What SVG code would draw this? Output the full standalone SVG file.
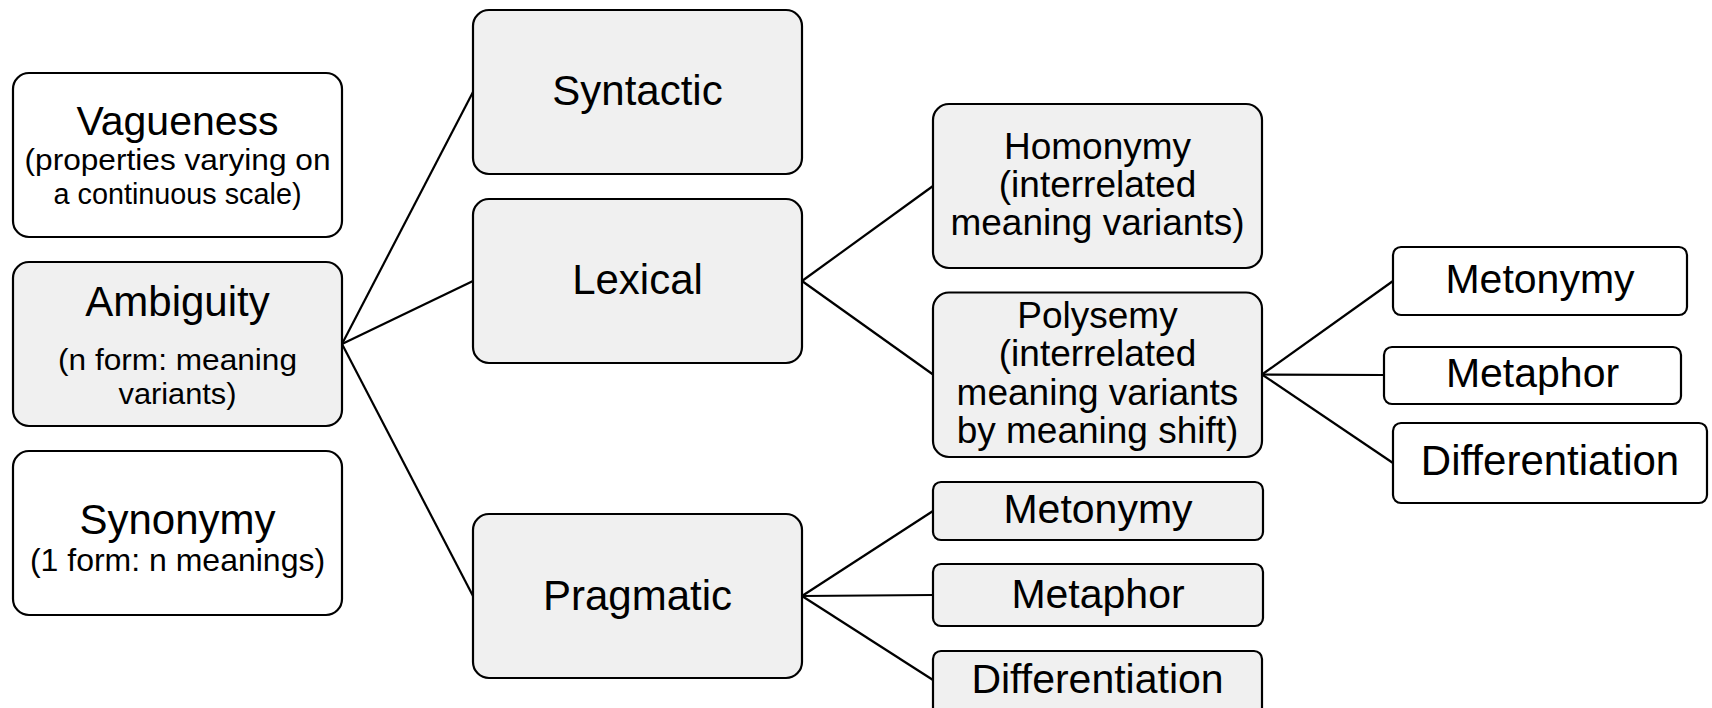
<svg xmlns="http://www.w3.org/2000/svg" width="1712" height="708" viewBox="0 0 1712 708">
<style>
.b{stroke:#000;stroke-width:2.2}
.g{fill:#f0f0f0}
.w{fill:#fff}
text{font-family:"Liberation Sans",Arial,sans-serif;fill:#000;text-anchor:middle}
.t42{font-size:42px}
.t41{font-size:41px}
.t37{font-size:37px}
.t32{font-size:32px}
.t30{font-size:29.5px}
.c line{stroke:#000;stroke-width:2.2}
</style>
<rect width="1712" height="708" fill="#fff"/>
<g class="c" id="connectors">
<line x1="342" y1="344" x2="473" y2="92"/>
<line x1="342" y1="344" x2="473" y2="281"/>
<line x1="342" y1="344" x2="473" y2="596"/>
<line x1="802" y1="281" x2="933" y2="186"/>
<line x1="802" y1="281" x2="933" y2="374.5"/>
<line x1="802" y1="596" x2="933" y2="511"/>
<line x1="802" y1="596" x2="933" y2="595"/>
<line x1="802" y1="596" x2="933" y2="680"/>
<line x1="1262" y1="374.5" x2="1393" y2="281"/>
<line x1="1262" y1="374.5" x2="1384" y2="375"/>
<line x1="1262" y1="374.5" x2="1393" y2="463"/>
</g>
<g id="vagueness">
<rect class="b w" x="13" y="73" width="329" height="164" rx="16"/>
<text class="t41" x="177.5" y="134.5">Vagueness</text>
<text class="t30" x="177.5" y="170" textLength="306" lengthAdjust="spacingAndGlyphs">(properties varying on</text>
<text class="t30" x="177.5" y="204" textLength="248" lengthAdjust="spacingAndGlyphs">a continuous scale)</text>
</g>
<g id="ambiguity">
<rect class="b g" x="13" y="262" width="329" height="164" rx="16"/>
<text class="t42" x="177.5" y="316">Ambiguity</text>
<text class="t30" x="177.5" y="370" textLength="239" lengthAdjust="spacingAndGlyphs">(n form: meaning</text>
<text class="t30" x="177.5" y="404" textLength="118" lengthAdjust="spacingAndGlyphs">variants)</text>
</g>
<g id="synonymy">
<rect class="b w" x="13" y="451" width="329" height="164" rx="16"/>
<text class="t42" x="177.5" y="534">Synonymy</text>
<text class="t32" x="177.5" y="571">(1 form: n meanings)</text>
</g>
<g id="syntactic">
<rect class="b g" x="473" y="10" width="329" height="164" rx="16"/>
<text class="t42" x="637.5" y="105">Syntactic</text>
</g>
<g id="lexical">
<rect class="b g" x="473" y="199" width="329" height="164" rx="16"/>
<text class="t42" x="637.5" y="294">Lexical</text>
</g>
<g id="pragmatic">
<rect class="b g" x="473" y="514" width="329" height="164" rx="16"/>
<text class="t42" x="637.5" y="610">Pragmatic</text>
</g>
<g id="homonymy">
<rect class="b g" x="933" y="104" width="329" height="164" rx="16"/>
<text class="t37" x="1097.5" y="159">Homonymy</text>
<text class="t37" x="1097.5" y="197">(interrelated</text>
<text class="t37" x="1097.5" y="235">meaning variants)</text>
</g>
<g id="polysemy">
<rect class="b g" x="933" y="292.5" width="329" height="164.5" rx="16"/>
<text class="t37" x="1097.5" y="328">Polysemy</text>
<text class="t37" x="1097.5" y="366">(interrelated</text>
<text class="t37" x="1097.5" y="405">meaning variants</text>
<text class="t37" x="1097.5" y="443">by meaning shift)</text>
</g>
<g id="prag-metonymy">
<rect class="b g" x="933" y="482" width="330" height="58" rx="8"/>
<text class="t41" x="1098" y="523">Metonymy</text>
</g>
<g id="prag-metaphor">
<rect class="b g" x="933" y="564" width="330" height="62" rx="8"/>
<text class="t41" x="1098" y="608">Metaphor</text>
</g>
<g id="prag-differentiation">
<rect class="b g" x="933" y="651" width="329" height="70" rx="8"/>
<text class="t41" x="1097.5" y="693">Differentiation</text>
</g>
<g id="poly-metonymy">
<rect class="b w" x="1393" y="247" width="294" height="68" rx="8"/>
<text class="t41" x="1540" y="293">Metonymy</text>
</g>
<g id="poly-metaphor">
<rect class="b w" x="1384" y="347" width="297" height="57" rx="8"/>
<text class="t41" x="1532.5" y="387">Metaphor</text>
</g>
<g id="poly-differentiation">
<rect class="b w" x="1393" y="423" width="314" height="80" rx="8"/>
<text class="t42" x="1550" y="475">Differentiation</text>
</g>
</svg>
